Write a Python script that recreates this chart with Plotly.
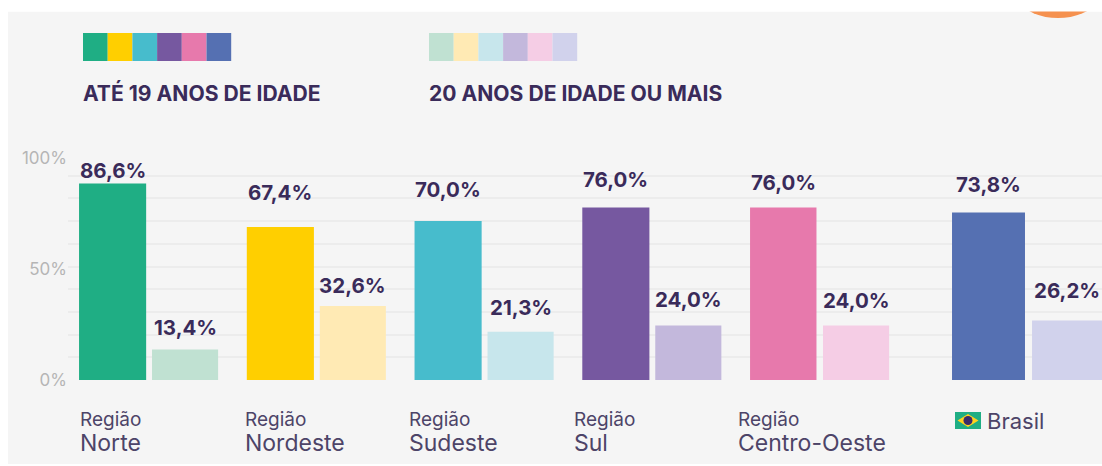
import plotly.graph_objects as go

# ---- data
regions = ["Norte", "Nordeste", "Sudeste", "Sul", "Centro-Oeste", "Brasil"]
ate_19 = [86.6, 67.4, 70.0, 76.0, 76.0, 73.8]
mais_20 = [13.4, 32.6, 21.3, 24.0, 24.0, 26.2]
labels_19 = ["86,6%", "67,4%", "70,0%", "76,0%", "76,0%", "73,8%"]
labels_20 = ["13,4%", "32,6%", "21,3%", "24,0%", "24,0%", "26,2%"]
axis_ticks = [0, 50, 100]
axis_labels = ["0%", "50%", "100%"]
grid_ticks = [0, 10, 20, 30, 40, 50, 60, 70, 80, 90]
title_19 = "ATÉ 19 ANOS DE IDADE"
title_20 = "20 ANOS DE IDADE OU MAIS"

# ---- styles / layout
W, H = 1102, 466
dark = ["#1fae84", "#ffcf00", "#47bccc", "#7658a0", "#e779ac", "#5570b2"]
light = ["#c0e1d2", "#ffeab4", "#c7e6ec", "#c3b8dc", "#f5cde5", "#d1d2ec"]
ink = "#3a2b5a"
label_ink = "#4d4468"
font = "Inter"

group_pos = [0, 1, 2, 3.0, 4.0, 5.237]
dark_off = [-0.414, -0.414, -0.414, -0.414, -0.414, -0.447]
dark_w = [0.4, 0.4, 0.4, 0.4, 0.396, 0.435]
light_off = [0.021, 0.021, 0.021, 0.021, 0.021, 0.03]
light_w = [0.394, 0.394, 0.394, 0.394, 0.394, 0.417]
shift_19 = [13, 35, 32, 28, 25, 28]
shift_20 = [22, 21, 24, 26, 25, 30]

x_left, base_y, top_y = 68, 380, 140
bar_scale, tick_scale = 2.27, 2.22
pitch = 167.75
x0_px = 148.5


def px(x):
    return x / W


def py(y):
    return 1 - y / H


fig = go.Figure()
fig.add_trace(go.Bar(x=group_pos, y=ate_19, width=dark_w, offset=dark_off,
                     marker=dict(color=dark, line_width=0), hoverinfo="skip", showlegend=False))
fig.add_trace(go.Bar(x=group_pos, y=mais_20, width=light_w, offset=light_off,
                     marker=dict(color=light, line_width=0), hoverinfo="skip", showlegend=False))
fig.add_trace(go.Scatter(x=[0, 0, 0], y=axis_ticks, yaxis="y2", mode="markers",
                         marker=dict(opacity=0), hoverinfo="skip", showlegend=False))

shapes = [
    dict(type="rect", xref="paper", yref="paper", x0=px(8), x1=1, y0=py(464), y1=py(11.5),
         fillcolor="#f5f5f5", line_width=0, layer="below"),
    dict(type="circle", xref="paper", yref="paper", x0=px(1058 - 64), x1=px(1058 + 64),
         y0=py(18), y1=py(18 - 128), fillcolor="#f5914f", line_width=0, layer="below"),
    dict(type="rect", xref="paper", yref="paper", x0=0, x1=1, y0=py(11.5), y1=1,
         fillcolor="#ffffff", line_width=0, layer="below"),
]
for start, cols in ((83, dark), (429, light)):
    for i, c in enumerate(cols):
        shapes.append(dict(type="rect", xref="paper", yref="paper",
                           x0=px(start + i * 24.7), x1=px(start + (i + 1) * 24.7),
                           y0=py(61), y1=py(33), fillcolor=c, line_width=0))
# flag
shapes += [
    dict(type="rect", xref="paper", yref="paper", x0=px(955), x1=px(981), y0=py(429), y1=py(412),
         fillcolor="#1fae84", line_width=0),
    dict(type="path", xref="paper", yref="paper",
         path=f"M {px(957.5)} {py(420.5)} L {px(968)} {py(414)} L {px(978.5)} {py(420.5)} L {px(968)} {py(427)} Z",
         fillcolor="#ffd21f", line_width=0),
    dict(type="circle", xref="paper", yref="paper", x0=px(963.5), x1=px(972.5), y0=py(425), y1=py(416),
         fillcolor="#3a2b6a", line_width=0),
]

ann = []
for tx, t in ((84, title_19), (430, title_20)):
    ann.append(dict(xref="paper", yref="paper", x=px(tx), y=py(93), text=f"<b>{t}</b>", showarrow=False,
                    xanchor="left", yanchor="middle", xshift=-3,
                    font=dict(family=font, size=21.1, color=ink)))

for i in range(len(regions)):
    cx = group_pos[i] + dark_off[i] + dark_w[i] / 2
    ann.append(dict(x=cx, y=ate_19[i], text=f"<b>{labels_19[i]}</b>", showarrow=False, yanchor="middle",
                    yshift=shift_19[i], font=dict(family=font, size=20.5, color=ink)))
    cx = group_pos[i] + light_off[i] + light_w[i] / 2
    ann.append(dict(x=cx, y=mais_20[i], text=f"<b>{labels_20[i]}</b>", showarrow=False, yanchor="middle",
                    yshift=shift_20[i], font=dict(family=font, size=20.5, color=ink)))

for name, lx in zip(regions[:5], [80, 245, 409, 574, 738]):
    ann.append(dict(xref="paper", yref="paper", x=px(lx), y=py(419.5), text="Região", showarrow=False,
                    xanchor="left", yanchor="middle", xshift=-2,
                    font=dict(family=font, size=19, color=label_ink)))
    ann.append(dict(xref="paper", yref="paper", x=px(lx), y=py(443), text=name, showarrow=False,
                    xanchor="left", yanchor="middle", xshift=-2,
                    font=dict(family=font, size=23, color=label_ink)))
ann.append(dict(xref="paper", yref="paper", x=px(987), y=py(421), text=regions[5], showarrow=False,
                xanchor="left", yanchor="middle", xshift=-2,
                font=dict(family=font, size=22, color=label_ink)))

y_dom = [py(base_y), py(top_y)]
fig.update_layout(
    width=W, height=H, margin=dict(l=0, r=0, t=0, b=0, pad=0, autoexpand=False), autosize=False,
    paper_bgcolor="#ffffff", plot_bgcolor="rgba(0,0,0,0)",
    barmode="overlay", showlegend=False, shapes=shapes, annotations=ann,
    xaxis=dict(domain=[px(x_left), 1], automargin=False,
               range=[(x_left - x0_px) / pitch, (W - x0_px) / pitch],
               showgrid=False, zeroline=False, showticklabels=False, ticks="", fixedrange=True),
    yaxis=dict(domain=y_dom, range=[0, (base_y - top_y) / bar_scale], automargin=False,
               tickmode="array", tickvals=grid_ticks, showticklabels=False, ticks="",
               showgrid=True, gridcolor="#ececec", gridwidth=1.8, zeroline=False, fixedrange=True),
    yaxis2=dict(domain=y_dom, overlaying="y", side="left", range=[0, (base_y - top_y) / tick_scale],
                automargin=False,
                tickmode="array", tickvals=axis_ticks, ticktext=axis_labels, showgrid=False,
                zeroline=False, ticks="", showline=False, fixedrange=True,
                tickfont=dict(family=font, size=17, color="#b5b5b5")),
)
fig.write_html("out.html", config=dict(displayModeBar=False),
               post_script="document.body.style.margin='0';document.body.style.overflow='hidden';")
